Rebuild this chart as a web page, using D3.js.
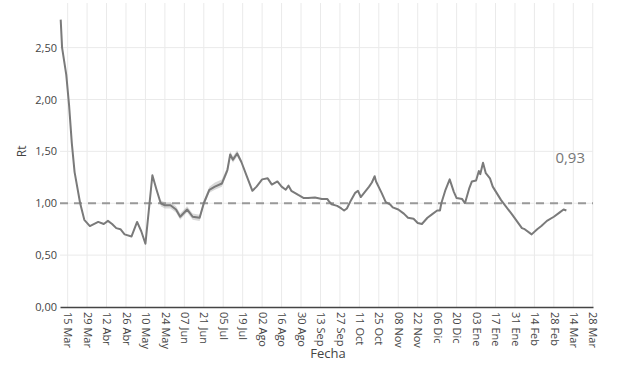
<!DOCTYPE html>
<html>
<head>
<meta charset="utf-8">
<script src="https://cdn.jsdelivr.net/npm/d3@7"></script>
<style>
	body { margin: 0; background: #fff; }
	text { font-family: "Open Sans", "DejaVu Sans", sans-serif; }
</style>
</head>
<body>
<div id="chart-area"></div>
<script>
// Rt estimado, Mar 2020 - Mar 2021
var rtDates = ['2020-03-10','2020-03-11','2020-03-14','2020-03-16','2020-03-18','2020-03-20','2020-03-24','2020-03-27','2020-03-31',
	'2020-04-06','2020-04-10','2020-04-13','2020-04-16','2020-04-19','2020-04-22','2020-04-25','2020-04-30',
	'2020-05-04','2020-05-07','2020-05-10','2020-05-15','2020-05-18','2020-05-21','2020-05-24','2020-05-28',
	'2020-06-01','2020-06-04','2020-06-09','2020-06-13','2020-06-18','2020-06-21','2020-06-25','2020-06-29',
	'2020-07-04','2020-07-08','2020-07-10','2020-07-12','2020-07-15','2020-07-18','2020-07-22','2020-07-26',
	'2020-07-29','2020-08-02','2020-08-06','2020-08-09','2020-08-13','2020-08-16','2020-08-19','2020-08-21',
	'2020-08-23','2020-08-28','2020-09-01','2020-09-04','2020-09-09','2020-09-14','2020-09-18','2020-09-19',
	'2020-09-21','2020-09-25','2020-09-28','2020-09-30','2020-10-02','2020-10-05','2020-10-08','2020-10-10',
	'2020-10-12','2020-10-15','2020-10-18','2020-10-20','2020-10-22','2020-10-23','2020-10-27','2020-10-30',
	'2020-11-02','2020-11-04','2020-11-08','2020-11-12','2020-11-15','2020-11-19','2020-11-22','2020-11-25',
	'2020-11-29','2020-12-02','2020-12-06','2020-12-08','2020-12-09','2020-12-12','2020-12-15','2020-12-18',
	'2020-12-20','2020-12-24','2020-12-26','2020-12-29','2020-12-31','2021-01-03','2021-01-05','2021-01-06',
	'2021-01-08','2021-01-10','2021-01-13','2021-01-15','2021-01-21','2021-01-29','2021-02-05','2021-02-07',
	'2021-02-12','2021-02-16','2021-02-19','2021-02-23','2021-02-28','2021-03-04','2021-03-07','2021-03-09'];
var rtValues = [2.77,2.50,2.24,1.95,1.58,1.30,1.00,0.84,0.78,
	0.82,0.80,0.83,0.80,0.76,0.75,0.70,0.68,
	0.82,0.73,0.61,1.27,1.13,1.00,0.98,0.98,
	0.94,0.87,0.94,0.87,0.86,1.00,1.13,1.16,
	1.19,1.32,1.47,1.42,1.48,1.40,1.26,1.12,
	1.16,1.23,1.24,1.18,1.21,1.16,1.13,1.17,
	1.12,1.08,1.05,1.05,1.055,1.04,1.04,1.02,
	0.99,0.975,0.95,0.93,0.95,1.03,1.10,1.12,
	1.06,1.11,1.16,1.20,1.26,1.21,1.10,1.01,
	0.99,0.96,0.94,0.90,0.86,0.85,0.81,0.80,
	0.86,0.89,0.93,0.93,1.00,1.13,1.23,1.11,
	1.05,1.04,1.00,1.14,1.21,1.22,1.31,1.28,
	1.39,1.29,1.24,1.16,1.03,0.89,0.76,0.75,
	0.70,0.75,0.78,0.83,0.87,0.91,0.94,0.93];

// banda de confianza visible (May - Jul)
var bandDates = ['2020-05-21','2020-05-24','2020-05-28','2020-06-01','2020-06-04','2020-06-09','2020-06-13','2020-06-18',
	'2020-06-21','2020-06-25','2020-06-29','2020-07-04','2020-07-08','2020-07-10','2020-07-12','2020-07-15','2020-07-18'];
var bandLow = [0.97,0.95,0.95,0.91,0.84,0.91,0.84,0.83,0.97,1.10,1.13,1.16,1.29,1.44,1.39,1.45,1.38];
var bandHigh = [1.03,1.01,1.01,0.97,0.90,0.97,0.90,0.89,1.03,1.16,1.20,1.23,1.35,1.50,1.45,1.51,1.42];

var yTicks = [0, 0.5, 1, 1.5, 2, 2.5];
var tickDates = ['2020-03-15','2020-03-29','2020-04-12','2020-04-26','2020-05-10','2020-05-24','2020-06-07','2020-06-21',
	'2020-07-05','2020-07-19','2020-08-02','2020-08-16','2020-08-30','2020-09-13','2020-09-27','2020-10-11',
	'2020-10-25','2020-11-08','2020-11-22','2020-12-06','2020-12-20','2021-01-03','2021-01-17','2021-01-31',
	'2021-02-14','2021-02-28','2021-03-14','2021-03-28'];
var monthNames = ['Ene','Feb','Mar','Abr','May','Jun','Jul','Ago','Sep','Oct','Nov','Dic'];
var refValue = 1;
var lastLabel = '0,93';

var parse = d3.utcParse('%Y-%m-%d');
var data = rtDates.map((d, i) => ({ date: parse(d), value: rtValues[i] }));
var band = bandDates.map((d, i) => ({ date: parse(d), lo: bandLow[i], hi: bandHigh[i] }));

var width = 620;
var height = 368;
var margin = { top: 3, right: 27, bottom: 61, left: 60 };

var svg = d3.select('#chart-area')
	.append('svg')
	.attr('width', width)
	.attr('height', height);

var x = d3.scaleUtc()
	.domain([new Date(Date.UTC(2020, 2, 9, 12)), new Date(Date.UTC(2021, 2, 28, 4))])
	.range([margin.left, width - margin.right]);

var y = d3.scaleLinear()
	.domain([0, 2.93])
	.range([height - margin.bottom, margin.top]);

var fmtNum = d => d3.format('.2f')(d).replace('.', ',');

// rejilla
svg.append('g')
	.selectAll('line')
	.data(tickDates.map(parse))
	.enter()
		.append('line')
		.attr('x1', d => x(d)).attr('x2', d => x(d))
		.attr('y1', margin.top).attr('y2', height - margin.bottom)
		.attr('stroke', '#eaeaea');

svg.append('g')
	.selectAll('line')
	.data(yTicks.slice(1))
	.enter()
		.append('line')
		.attr('x1', margin.left).attr('x2', width - margin.right)
		.attr('y1', d => y(d)).attr('y2', d => y(d))
		.attr('stroke', '#eaeaea');

// eje y
var yAxis = d3.axisLeft(y)
	.tickValues(yTicks)
	.tickSize(0)
	.tickPadding(3)
	.tickFormat(fmtNum);

svg.append('g')
	.attr('transform', 'translate(' + margin.left + ',0)')
	.call(yAxis)
	.call(g => g.select('.domain').remove())
	.selectAll('text')
		.attr('font-size', 11)
		.attr('fill', '#444');

// eje x
var xAxis = d3.axisBottom(x)
	.tickValues(tickDates.map(parse))
	.tickSize(0)
	.tickFormat(d => d3.utcFormat('%d')(d) + ' ' + monthNames[d.getUTCMonth()]);

svg.append('g')
	.attr('transform', 'translate(0,' + (height - margin.bottom) + ')')
	.call(xAxis)
	.call(g => g.select('.domain').attr('stroke', '#444').attr('stroke-width', 1.5))
	.selectAll('text')
		.attr('font-size', 11)
		.attr('fill', '#444')
		.attr('text-anchor', 'start')
		.attr('dy', '0.35em')
		.attr('transform', 'translate(0,5) rotate(90)')
		.attr('x', 0)
		.attr('y', 0);

// banda
svg.append('path')
	.datum(band)
	.attr('fill', '#aaa')
	.attr('fill-opacity', 0.45)
	.attr('d', d3.area().x(d => x(d.date)).y0(d => y(d.lo)).y1(d => y(d.hi)));

// linea de referencia
svg.append('line')
	.attr('x1', margin.left).attr('x2', width - margin.right)
	.attr('y1', y(refValue)).attr('y2', y(refValue))
	.attr('stroke', '#999')
	.attr('stroke-width', 2)
	.attr('stroke-dasharray', '8,6');

// serie
svg.append('path')
	.datum(data)
	.attr('fill', 'none')
	.attr('stroke', '#7a7a7a')
	.attr('stroke-width', 2)
	.attr('stroke-linejoin', 'round')
	.attr('d', d3.line().x(d => x(d.date)).y(d => y(d.value)));

// anotacion
svg.append('text')
	.attr('x', 585)
	.attr('y', 163)
	.attr('text-anchor', 'end')
	.attr('font-size', 15)
	.attr('fill', '#777')
	.text(lastLabel);

// titulos
svg.append('text')
	.attr('transform', 'translate(26,' + y(1.5) + ') rotate(-90)')
	.attr('text-anchor', 'middle')
	.attr('font-size', 12)
	.attr('fill', '#444')
	.text('Rt');

svg.append('text')
	.attr('x', 328)
	.attr('y', 358)
	.attr('text-anchor', 'middle')
	.attr('font-size', 13)
	.attr('fill', '#444')
	.text('Fecha');
</script>
</body>
</html>
